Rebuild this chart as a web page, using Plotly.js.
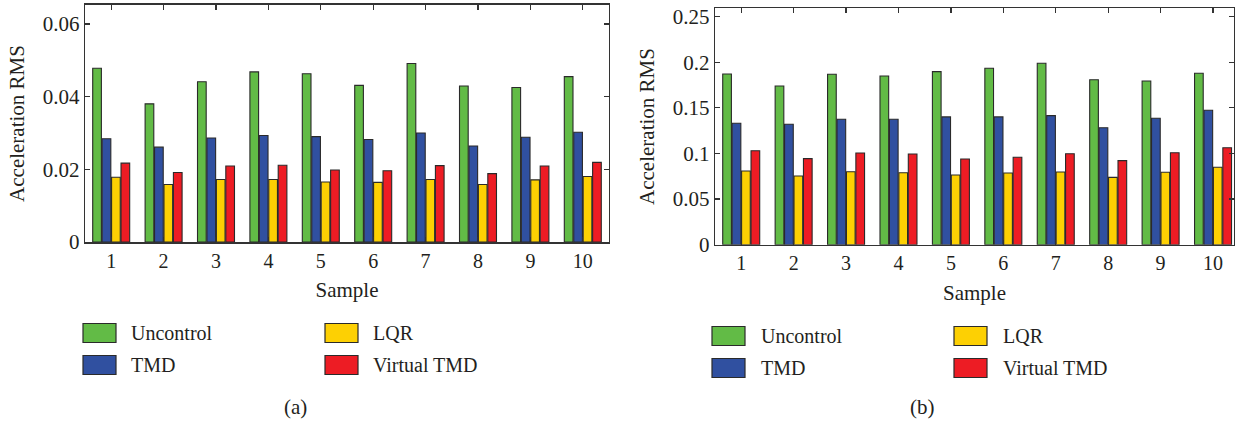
<!DOCTYPE html>
<html>
<head>
<meta charset="utf-8">
<script src="https://cdn.plot.ly/plotly-3.0.1.min.js"></script>
<style>html,body{margin:0;padding:0;background:#fff;}#chart{width:1238px;height:421px;}</style>
</head>
<body>
<div id="chart"></div>
<script>
// ---- data ----
const samples = [1, 2, 3, 4, 5, 6, 7, 8, 9, 10];
const seriesNames = ["Uncontrol", "TMD", "LQR", "Virtual TMD"];
const seriesColors = ["#62BB46", "#3050A0", "#FDD003", "#ED1C24"];

// (a)
const aUncontrol  = [0.0478, 0.0380, 0.0441, 0.0468, 0.0463, 0.0431, 0.0491, 0.0429, 0.0425, 0.0455];
const aTMD        = [0.0284, 0.0261, 0.0286, 0.0293, 0.0290, 0.0282, 0.0300, 0.0264, 0.0288, 0.0302];
const aLQR        = [0.0178, 0.0158, 0.0172, 0.0172, 0.0165, 0.0164, 0.0172, 0.0158, 0.0171, 0.0180];
const aVirtualTMD = [0.0217, 0.0191, 0.0209, 0.0211, 0.0198, 0.0196, 0.0210, 0.0188, 0.0209, 0.0219];

// (b)
const bUncontrol  = [0.1871, 0.1739, 0.1867, 0.1849, 0.1896, 0.1933, 0.1988, 0.1808, 0.1794, 0.1878];
const bTMD        = [0.1330, 0.1319, 0.1374, 0.1374, 0.1400, 0.1400, 0.1414, 0.1282, 0.1385, 0.1473];
const bLQR        = [0.0808, 0.0753, 0.0800, 0.0789, 0.0764, 0.0786, 0.0797, 0.0738, 0.0793, 0.0848];
const bVirtualTMD = [0.1030, 0.0943, 0.1005, 0.0994, 0.0939, 0.0958, 0.0997, 0.0921, 0.1008, 0.1063];

const yTitle = "Acceleration RMS";
const xTitle = "Sample";
const captions = ["(a)", "(b)"];

// ---- build ----
const FONT = "Liberation Serif, Times New Roman, serif";
const TXT = "#231F20";
const aSeries = [aUncontrol, aTMD, aLQR, aVirtualTMD];
const bSeries = [bUncontrol, bTMD, bLQR, bVirtualTMD];

const traces = [];
function addBars(series, xa, ya) {
  series.forEach((vals, i) => {
    traces.push({
      type: "bar", x: samples, y: vals, name: seriesNames[i],
      xaxis: xa, yaxis: ya, showlegend: false,
      marker: {color: seriesColors[i], line: {color: "#2a2a2a", width: 1.1}},
      hoverinfo: "x+y+name"
    });
  });
}
addBars(aSeries, "x", "y");
addBars(bSeries, "x2", "y2");

const W = 1238, H = 421;
const px = v => v / W;
const py = v => 1 - v / H;

function xAxis(domain, range) {
  return {
    domain: domain, range: range, tickvals: samples, ticktext: samples.map(String),
    ticks: "inside", ticklen: 5, tickwidth: 1.2, tickcolor: "#333",
    showline: true, linecolor: "#333", linewidth: 1.6, mirror: "ticks",
    showgrid: false, zeroline: false, fixedrange: true,
    tickfont: {family: FONT, size: 20, color: TXT},
    title: {text: xTitle, font: {family: FONT, size: 21, color: TXT}, standoff: 12}
  };
}
function yAxis(domain, range, dtick, anchor) {
  return {
    domain: domain, range: range, dtick: dtick, tick0: 0, anchor: anchor,
    ticks: "inside", ticklen: 5, tickwidth: 1.2, tickcolor: "#333",
    showline: true, linecolor: "#333", linewidth: 1.4, mirror: "ticks",
    showgrid: false, zeroline: false, fixedrange: true,
    tickfont: {family: FONT, size: 21, color: TXT},
    title: {text: yTitle, font: {family: FONT, size: 21, color: TXT}, standoff: 12}
  };
}

const layout = {
  width: W, height: H,
  margin: {l: 0, r: 0, t: 0, b: 0},
  paper_bgcolor: "#fff", plot_bgcolor: "#fff",
  barmode: "group", bargap: 0.28, bargroupgap: 0.08,
  showlegend: false,
  xaxis: Object.assign(xAxis([px(85), px(609)], [0.5, 10.5]), {anchor: "y"}),
  yaxis: yAxis([py(242), py(5)], [0, 0.0652], 0.02, "x"),
  xaxis2: Object.assign(xAxis([px(715), px(1234)], [0.5, 10.4]), {anchor: "y2"}),
  yaxis2: yAxis([py(244.7), py(8.3)], [0, 0.259], 0.05, "x2"),
  shapes: [], annotations: []
};

// custom legends (large swatches)
const legends = [
  {cols: [[83, 129], [325, 371]], rows: [333, 365]},
  {cols: [[712, 759], [954, 1001]], rows: [336, 368]}
];
legends.forEach(lg => {
  seriesNames.forEach((nm, i) => {
    const col = lg.cols[Math.floor(i / 2)];
    const rowY = lg.rows[i % 2];
    layout.shapes.push({
      type: "rect", xref: "paper", yref: "paper",
      x0: px(col[0]), x1: px(col[0] + 33), y0: py(rowY - 9.5), y1: py(rowY + 9.5),
      fillcolor: seriesColors[i], line: {color: "#2a2a2a", width: 1.2}
    });
    layout.annotations.push({
      xref: "paper", yref: "paper", x: px(col[1]), y: py(rowY),
      xanchor: "left", yanchor: "middle", showarrow: false, text: nm,
      font: {family: FONT, size: 20, color: TXT}
    });
  });
});
[[295, 407], [922, 407]].forEach((p, i) => {
  layout.annotations.push({
    xref: "paper", yref: "paper", x: px(p[0]), y: py(p[1]),
    xanchor: "center", yanchor: "middle", showarrow: false, text: captions[i],
    font: {family: FONT, size: 21, color: TXT}
  });
});

Plotly.newPlot("chart", traces, layout, {displayModeBar: false, staticPlot: true});
</script>
</body>
</html>
